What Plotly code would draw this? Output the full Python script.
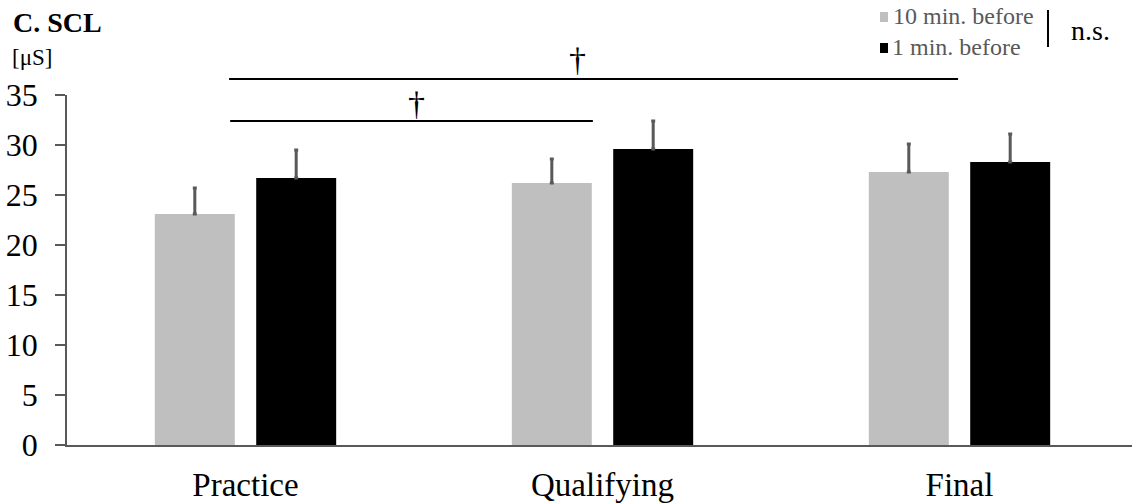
import plotly.graph_objects as go

categories = ["Practice", "Qualifying", "Final"]
before10 = [23.1, 26.2, 27.3]
before10_err = [2.6, 2.4, 2.8]
before1 = [26.7, 29.6, 28.3]
before1_err = [2.8, 2.8, 2.8]
y_ticks = [0, 5, 10, 15, 20, 25, 30, 35]

xpos = list(range(len(categories)))
FONT = "'Liberation Serif', 'Times New Roman', serif"
W, H = 1132, 504
L, R, T, B = 67, 0, 95, 59
PW, PH = W - L - R, H - T - B


def px(x):
    return (x - L) / PW


def py(y):
    return (H - B - y) / PH


err_style = dict(type="data", symmetric=False, arrayminus=[0, 0, 0],
                 color="#595959", thickness=3, width=2)

fig = go.Figure()
fig.add_trace(go.Bar(x=xpos, y=before10, width=0.224, offset=-0.254,
                     marker=dict(color="#BFBFBF", line=dict(width=0)),
                     error_y=dict(array=before10_err, **err_style),
                     name="10 min. before", showlegend=False))
fig.add_trace(go.Bar(x=xpos, y=before1, width=0.224, offset=0.03,
                     marker=dict(color="#000000", line=dict(width=0)),
                     error_y=dict(array=before1_err, **err_style),
                     name="1 min. before", showlegend=False))

fig.update_layout(
    width=W, height=H,
    margin=dict(l=L, r=R, t=T, b=B, pad=0),
    plot_bgcolor="white", paper_bgcolor="white",
    font=dict(family=FONT, color="black"),
    xaxis=dict(range=[-0.5, -0.5 + PW / 357], tickvals=xpos, ticktext=categories,
               showline=True, linecolor="#595959", linewidth=1.5,
               showgrid=False, zeroline=False, ticks="",
               tickfont=dict(size=33, family=FONT, color="black"),
               ticklabelstandoff=10),
    yaxis=dict(range=[0, 35], tickvals=y_ticks,
               showline=True, linecolor="#595959", linewidth=1.5,
               showgrid=False, zeroline=False, ticks="outside", ticklen=10,
               tickcolor="#595959", tickwidth=1.5,
               tickfont=dict(size=32, family=FONT, color="black"),
               ticklabelstandoff=11),
)

shapes = []
# significance brackets
shapes.append(dict(type="line", xref="x", yref="paper", x0=-0.046, x1=1.996,
                   y0=py(79), y1=py(79), line=dict(color="black", width=2)))
shapes.append(dict(type="line", xref="x", yref="paper", x0=-0.043, x1=0.973,
                   y0=py(121), y1=py(121), line=dict(color="black", width=2)))
# legend swatches
shapes.append(dict(type="rect", xref="paper", yref="paper", x0=px(880), x1=px(888),
                   y0=py(22), y1=py(12), fillcolor="#BFBFBF", line=dict(width=0)))
shapes.append(dict(type="rect", xref="paper", yref="paper", x0=px(880), x1=px(888),
                   y0=py(53), y1=py(43), fillcolor="#000000", line=dict(width=0)))
# n.s. divider
shapes.append(dict(type="line", xref="paper", yref="paper", x0=px(1048), x1=px(1048),
                   y0=py(10), y1=py(47), line=dict(color="black", width=2)))
fig.update_layout(shapes=shapes)

ann = []
ann.append(dict(text="<b>C. SCL</b>", xref="paper", yref="paper", x=px(11), y=py(23),
                xanchor="left", yanchor="middle", showarrow=False,
                font=dict(size=28, family=FONT, color="black")))
ann.append(dict(text="[μS]", xref="paper", yref="paper", x=px(10), y=py(57),
                xanchor="left", yanchor="middle", showarrow=False,
                font=dict(size=23, family=FONT, color="black")))
ann.append(dict(text="10 min. before", xref="paper", yref="paper", x=px(891), y=py(16),
                xanchor="left", yanchor="middle", showarrow=False,
                font=dict(size=24, family=FONT, color="#595959")))
ann.append(dict(text="1 min. before", xref="paper", yref="paper", x=px(890), y=py(47),
                xanchor="left", yanchor="middle", showarrow=False,
                font=dict(size=24, family=FONT, color="#595959")))
ann.append(dict(text="n.s.", xref="paper", yref="paper", x=px(1069), y=py(30),
                xanchor="left", yanchor="middle", showarrow=False,
                font=dict(size=28, family=FONT, color="black")))
ann.append(dict(text="†", xref="x", yref="paper", x=0.931, y=py(60),
                xanchor="center", yanchor="middle", showarrow=False,
                font=dict(size=34, family=FONT, color="black")))
ann.append(dict(text="†", xref="x", yref="paper", x=0.480, y=py(103),
                xanchor="center", yanchor="middle", showarrow=False,
                font=dict(size=34, family=FONT, color="black")))
fig.update_layout(annotations=ann)

fig.write_html("out.html")
